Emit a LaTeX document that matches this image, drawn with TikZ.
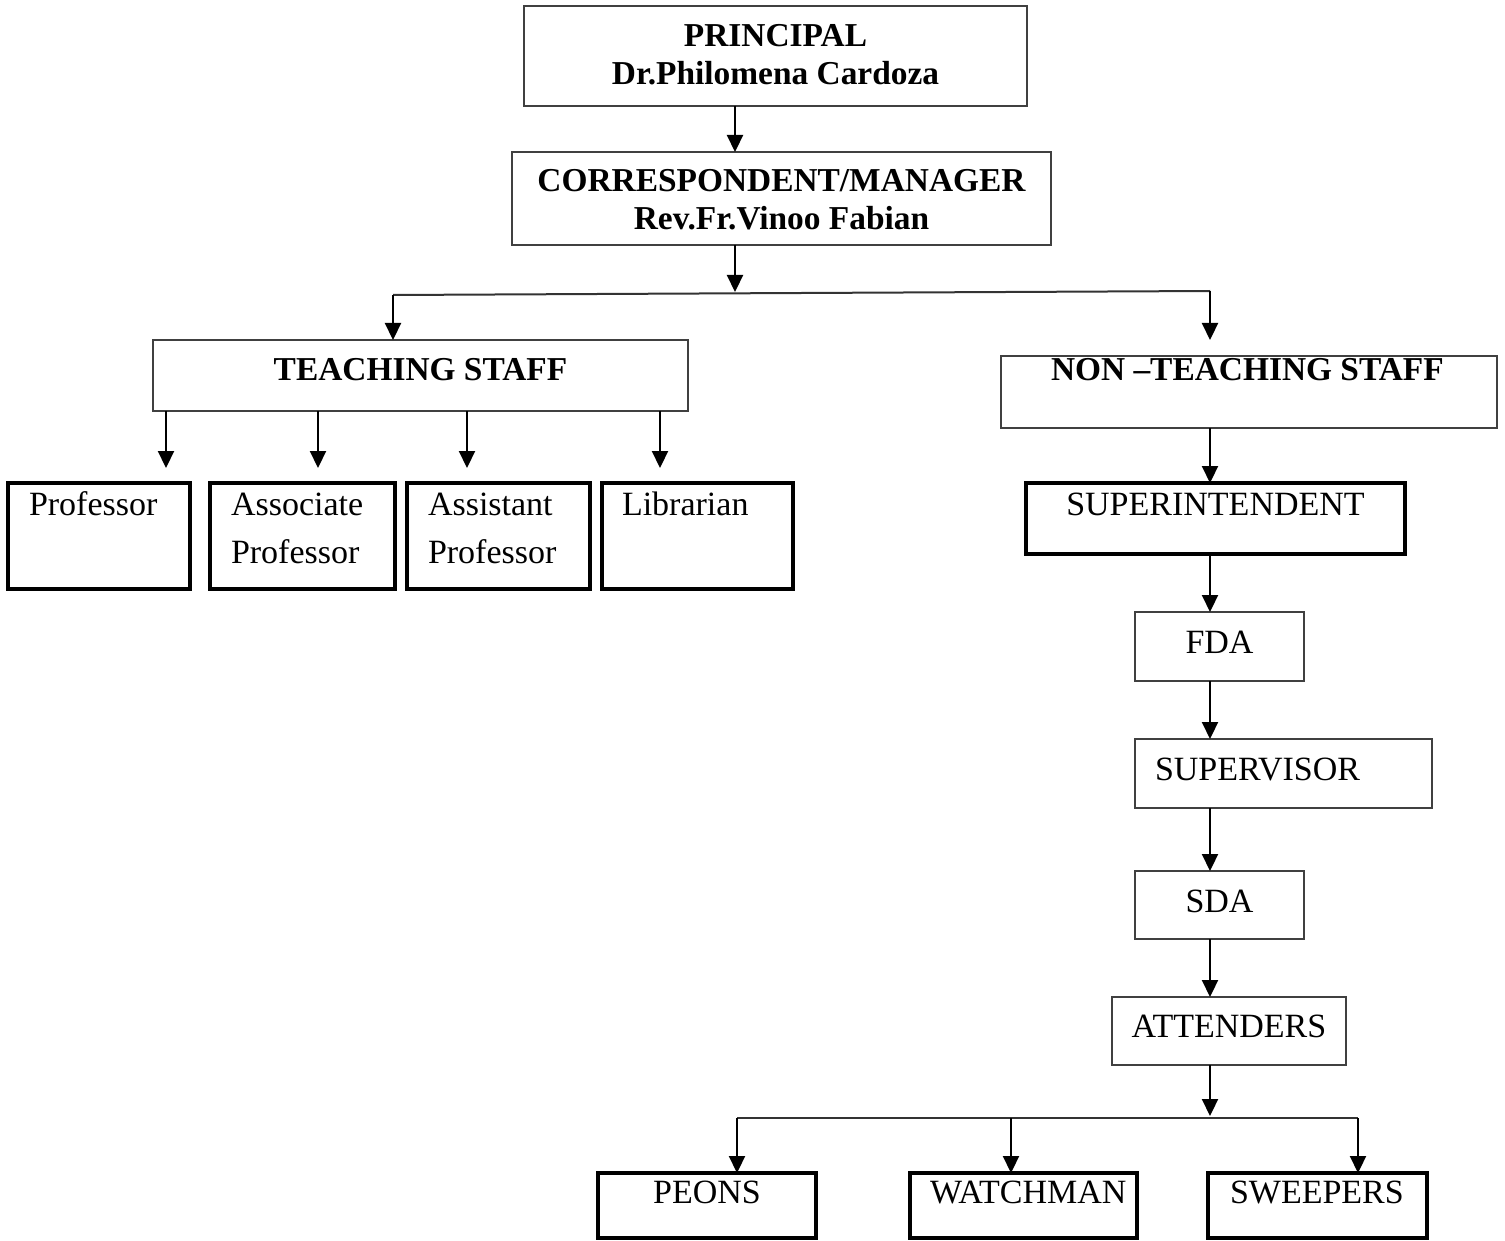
\documentclass[tikz,border=0pt]{standalone}
\usepackage{fontspec}
\setmainfont{Liberation Serif}
\usetikzlibrary{arrows.meta}
% name, style, x1, y1, x2, y2 (px), alignment code, baseline offset (px), text
\newcommand\ob[9]{%
  \node[#2] (#1) at ({(#3+#5)/2},{(#4+#6)/2})
  {\parbox[t][\dimexpr(#6pt-#4pt)/2\relax][t]{\dimexpr(#5pt-#3pt)/2\relax}{#7\rule{0pt}{\dimexpr#8pt/2\relax}#9}};}
\begin{document}
\begin{tikzpicture}[x=0.5pt,y=-0.5pt,
  thin/.style={draw=black!75, line width=1pt, inner sep=0pt, outer sep=0pt,
    font=\fontsize{17}{24}\selectfont},
  thick/.style={draw=black, line width=2pt, inner sep=0pt, outer sep=0pt,
    font=\fontsize{17}{24}\selectfont},
  hd/.style={font=\fontsize{16.7}{19}\selectfont\bfseries},
  arr/.style={draw=black, line width=1.1pt, -{Triangle[width=8pt,length=8.5pt]}},
  ln/.style={draw=black!80, line width=1pt}]
\useasboundingbox[fill=white] (0,0) rectangle (1505,1241);

% top
\ob{prin}{thin,hd}{524}{6}{1027}{106}{\centering}{41}{PRINCIPAL\\Dr.Philomena Cardoza}
\ob{corr}{thin,hd}{512}{152}{1051}{245}{\centering}{40}{CORRESPONDENT/MANAGER\\Rev.Fr.Vinoo Fabian}
\ob{teach}{thin,hd}{153}{340}{688}{411}{\centering}{40}{TEACHING STAFF}
\ob{nts}{thin,hd}{1001}{356}{1497}{428}{\raggedright\leftskip=25pt\relax}{24}{NON –TEACHING STAFF}

% teaching staff
\ob{prof}{thick}{8}{483}{190}{589}{\raggedright\leftskip=10.5pt\relax}{32}{Professor}
\ob{assoc}{thick}{210}{483}{395}{589}{\raggedright\leftskip=10.5pt\relax}{32}{Associate\\Professor}
\ob{asst}{thick}{407}{483}{590}{589}{\raggedright\leftskip=10.5pt\relax}{32}{Assistant\\Professor}
\ob{lib}{thick}{602}{483}{793}{589}{\raggedright\leftskip=10pt\relax}{32}{Librarian}

% non-teaching chain
\ob{supt}{thick}{1026}{483}{1405}{554}{\centering}{32}{SUPERINTENDENT}
\ob{fda}{thin}{1135}{612}{1304}{681}{\centering}{41}{FDA}
\ob{supv}{thin}{1135}{739}{1432}{808}{\raggedright\leftskip=10pt\relax}{41}{SUPERVISOR}
\ob{sda}{thin}{1135}{871}{1304}{939}{\centering}{41}{SDA}
\ob{att}{thin}{1112}{997}{1346}{1065}{\centering}{40}{ATTENDERS}

% bottom
\ob{peon}{thick}{598}{1173}{816}{1238}{\centering}{30}{PEONS}
\ob{watch}{thick}{910}{1173}{1137}{1238}{\raggedright\leftskip=10pt\relax}{30}{WATCHMAN}
\ob{sweep}{thick}{1208}{1173}{1427}{1238}{\raggedright\leftskip=11pt\relax}{30}{SWEEPERS}

% connectors: top
\coordinate (cA) at (735,0);
\draw[arr] (prin.south -| cA) -- (corr.north -| cA);
\coordinate (b1c) at (735,292);
\draw[arr] (corr.south -| cA) -- (b1c);
\coordinate (b1l) at (393,295);
\coordinate (b1r) at (1210,291);
\draw[ln] (b1l) -- (b1r);
\draw[arr] (b1l) -- (teach.north -| b1l);
\draw[arr, shorten >=8pt] (b1r) -- (nts.north -| b1r);

% teaching staff arrows
\coordinate (t1) at (166,0);
\coordinate (t2) at (318,0);
\coordinate (t3) at (467,0);
\coordinate (t4) at (660,0);
\draw[arr, shorten >=7.5pt] (teach.south -| t1) -- (prof.north -| t1);
\draw[arr, shorten >=7.5pt] (teach.south -| t2) -- (assoc.north -| t2);
\draw[arr, shorten >=7.5pt] (teach.south -| t3) -- (asst.north -| t3);
\draw[arr, shorten >=7.5pt] (teach.south -| t4) -- (lib.north -| t4);

% non-teaching chain arrows
\coordinate (cN) at (1210,0);
\draw[arr] (nts.south -| cN) -- (supt.north -| cN);
\draw[arr] (supt.south -| cN) -- (fda.north -| cN);
\draw[arr] (fda.south -| cN) -- (supv.north -| cN);
\draw[arr] (supv.south -| cN) -- (sda.north -| cN);
\draw[arr] (sda.south -| cN) -- (att.north -| cN);
\coordinate (b2c) at (1210,1116);
\draw[arr] (att.south -| cN) -- (b2c);

% bottom bus
\coordinate (b2l) at (737,1118);
\coordinate (b2m) at (1011,1118);
\coordinate (b2r) at (1358,1118);
\draw[ln] (b2l) -- (b2r);
\draw[arr] (b2l) -- (peon.north -| b2l);
\draw[arr] (b2m) -- (watch.north -| b2m);
\draw[arr] (b2r) -- (sweep.north -| b2r);
\end{tikzpicture}
\end{document}
